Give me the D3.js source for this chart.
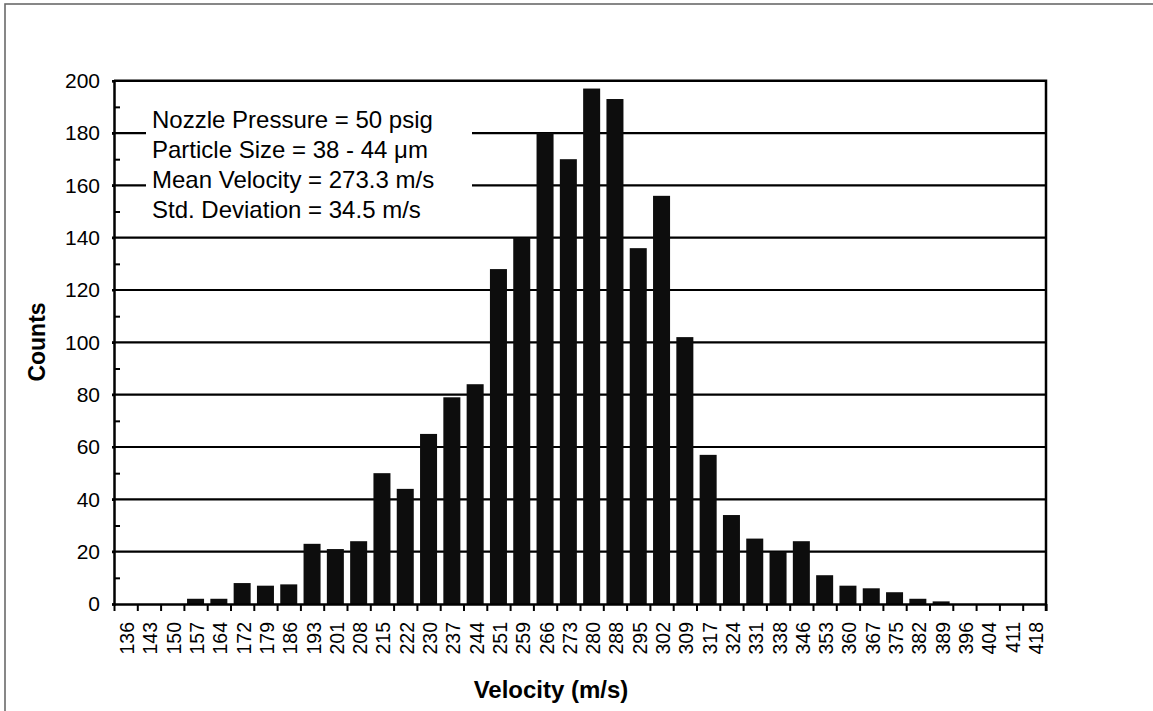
<!DOCTYPE html>
<html lang="en">
<head>
    <meta charset="UTF-8">
    <title>Velocity Distribution</title>
    <script src="https://d3js.org/d3.v7.min.js"></script>
    <style>
        body {
            margin: 0;
            background: #ffffff;
            font-family: "Liberation Sans", Arial, Helvetica, sans-serif;
        }
        .grid line {
            stroke: #000;
            stroke-width: 2.2px;
        }
        .tick text {
            fill: #000;
        }
    </style>
</head>
<body>
    <svg width="1153" height="711"></svg>
    <script>
        // bins of the velocity histogram (m/s)
        let velocities = ["136", "143", "150", "157", "164", "172", "179", "186", "193", "201",
                          "208", "215", "222", "230", "237", "244", "251", "259", "266", "273",
                          "280", "288", "295", "302", "309", "317", "324", "331", "338", "346",
                          "353", "360", "367", "375", "382", "389", "396", "404", "411", "418"];
        let counts = [0, 0, 0, 2, 2, 8, 7, 7.5, 23, 21,
                      24, 50, 44, 65, 79, 84, 128, 140, 180, 170,
                      197, 193, 136, 156, 102, 57, 34, 25, 20, 24,
                      11, 7, 6, 4.5, 2, 1, 0, 0, 0, 0];
        let yTicks = [0, 20, 40, 60, 80, 100, 120, 140, 160, 180, 200];
        let notes = ["Nozzle Pressure = 50 psig",
                     "Particle Size = 38 - 44 \u03bcm",
                     "Mean Velocity = 273.3 m/s",
                     "Std. Deviation = 34.5 m/s"];

        let svg = d3.select("svg");
        let plotLeft = 114, plotRight = 1046, plotTop = 80.7, plotBottom = 604;

        // outer frame (only left and top edges fall inside the picture)
        svg.append("rect")
            .attr("x", 5).attr("y", 4)
            .attr("width", 1200).attr("height", 800)
            .attr("fill", "none")
            .attr("stroke", "#6a6a6a")
            .attr("stroke-width", 1.6);

        let x = d3.scaleBand()
            .domain(velocities)
            .range([plotLeft, plotRight])
            .paddingInner(0.27)
            .paddingOuter(0.135);

        let xEdges = d3.scaleLinear()
            .domain([0, velocities.length])
            .range([plotLeft, plotRight]);

        let y = d3.scaleLinear()
            .domain([0, 200])
            .range([plotBottom, plotTop]);

        // horizontal gridlines
        svg.append("g")
            .attr("class", "grid")
            .selectAll("line")
            .data(yTicks.slice(1, -1))
            .enter().append("line")
            .attr("x1", plotLeft - 2)
            .attr("x2", plotRight)
            .attr("y1", d => y(d))
            .attr("y2", d => y(d));

        // white box behind the annotation text
        svg.append("rect")
            .attr("x", 146).attr("y", 96)
            .attr("width", 326).attr("height", 132)
            .attr("fill", "#fff");

        svg.append("g")
            .selectAll("text")
            .data(notes)
            .enter().append("text")
            .attr("x", 152)
            .attr("y", (d, i) => 128 + i * 30)
            .attr("font-size", "24px")
            .attr("fill", "#000")
            .text(d => d);

        // bars
        svg.append("g")
            .selectAll("rect")
            .data(counts)
            .enter().append("rect")
            .attr("x", (d, i) => x(velocities[i]))
            .attr("y", d => y(d))
            .attr("width", x.bandwidth())
            .attr("height", d => plotBottom - y(d))
            .attr("fill", "#0d0d0d");

        // plot frame: top and right edges
        svg.append("path")
            .attr("d", `M${plotLeft},${plotTop}H${plotRight}V${plotBottom + 7}`)
            .attr("fill", "none")
            .attr("stroke", "#000")
            .attr("stroke-width", 2.5);

        // y axis with labels every 20
        let yAxis = svg.append("g")
            .attr("transform", `translate(${plotLeft},0)`)
            .call(d3.axisLeft(y).tickValues(yTicks).tickSize(2).tickPadding(12))
            .call(g => g.select(".domain").attr("stroke-width", 2.5));
        yAxis.selectAll(".tick line").attr("stroke-width", 2.2);
        yAxis.selectAll(".tick text")
            .attr("font-size", "21px")
            .attr("font-family", "'Liberation Sans', Arial, sans-serif");

        // minor y ticks pointing inward
        svg.append("g")
            .attr("transform", `translate(${plotLeft},0)`)
            .call(d3.axisRight(y).tickValues(d3.range(10, 200, 20)).tickSize(6).tickFormat(""))
            .call(g => g.select(".domain").remove())
            .selectAll(".tick line").attr("stroke-width", 2);

        // x axis: tick marks at bin edges
        svg.append("g")
            .attr("transform", `translate(0,${plotBottom})`)
            .call(d3.axisBottom(xEdges).tickValues(d3.range(velocities.length + 1)).tickSize(7).tickFormat("").tickSizeOuter(0))
            .call(g => g.select(".domain").attr("stroke-width", 2.5))
            .selectAll(".tick line").attr("stroke-width", 2);

        // x axis labels, rotated
        let xAxis = svg.append("g")
            .attr("transform", `translate(1.5,${plotBottom})`)
            .call(d3.axisBottom(x).tickSize(0).tickPadding(0))
            .call(g => g.select(".domain").remove());
        xAxis.selectAll(".tick text")
            .attr("font-size", "19.5px")
            .attr("font-family", "'Liberation Sans', Arial, sans-serif")
            .attr("text-anchor", "end")
            .attr("transform", "rotate(-90)")
            .attr("x", -18)
            .attr("y", 0)
            .attr("dy", "0.36em");

        // axis titles
        svg.append("text")
            .attr("transform", "translate(45,342) rotate(-90)")
            .attr("text-anchor", "middle")
            .attr("font-size", "23px")
            .attr("font-weight", "bold")
            .text("Counts");

        svg.append("text")
            .attr("x", 551)
            .attr("y", 698)
            .attr("text-anchor", "middle")
            .attr("font-size", "24px")
            .attr("font-weight", "bold")
            .text("Velocity (m/s)");
    </script>
</body>
</html>
